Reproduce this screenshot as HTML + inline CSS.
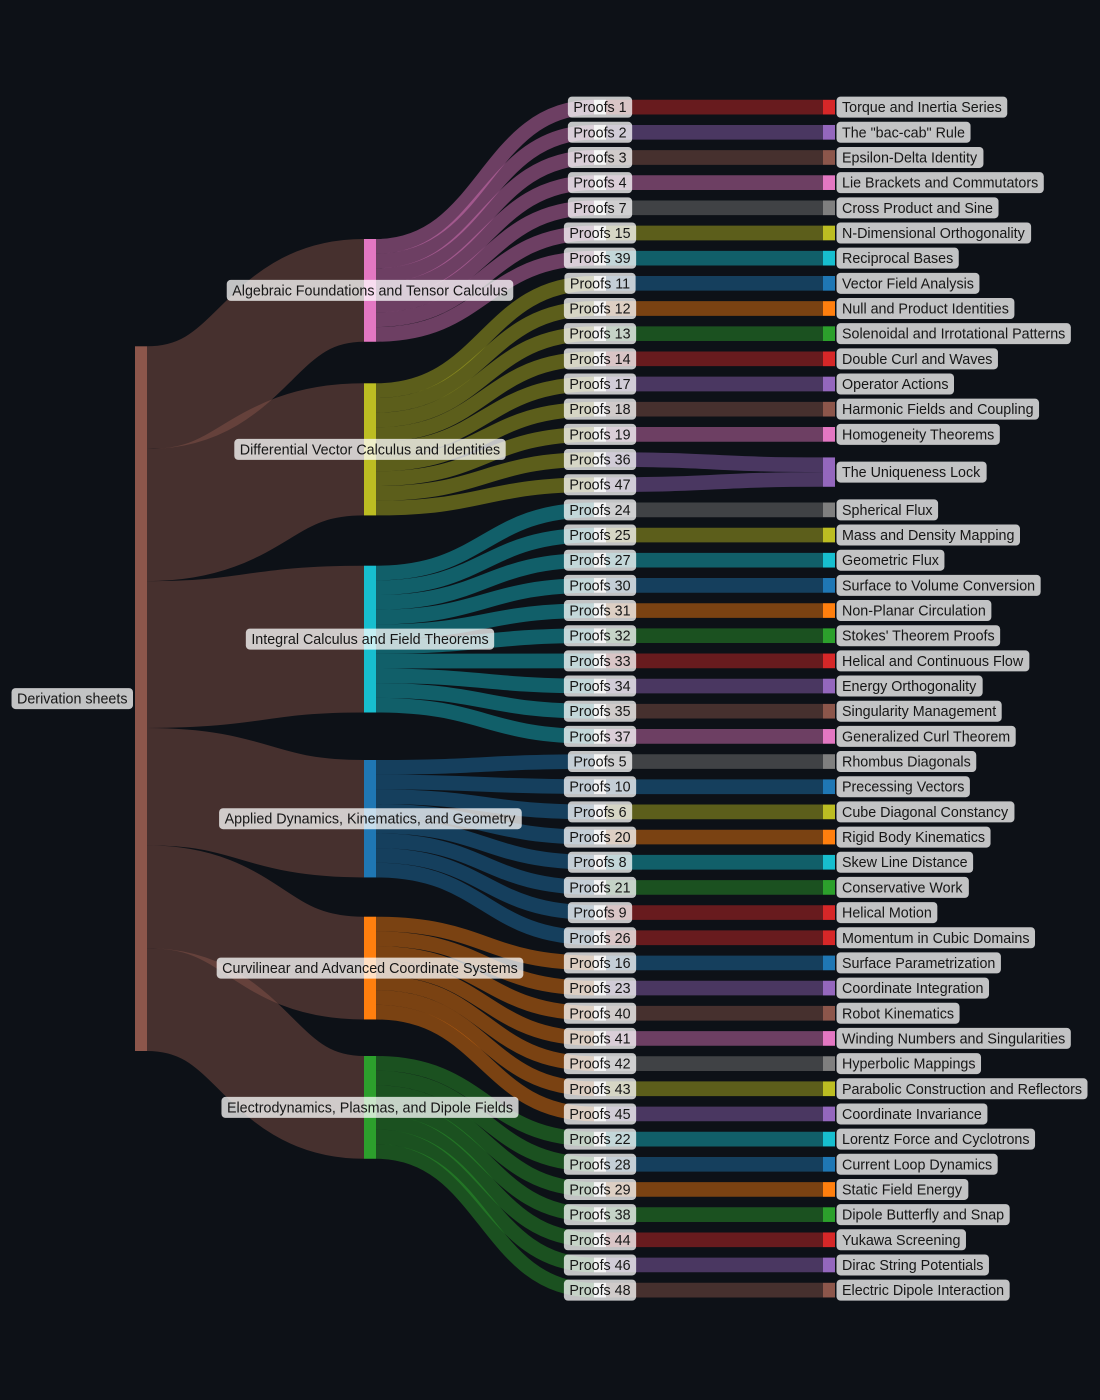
<!DOCTYPE html>
<html>
<head>
<meta charset="utf-8">
<style>
  html, body { margin:0; padding:0; background:#0d1117; }
  svg { display:block; }
  #labels text { font-family:"Liberation Sans", Arial, sans-serif; font-size:14.3px; fill:#161616; }
</style>
</head>
<body>
<svg id="s" width="1100" height="1400" viewBox="0 0 1100 1400" xmlns="http://www.w3.org/2000/svg">
  <rect x="0" y="0" width="1100" height="1400" fill="#0d1117"/>
  <g id="links" fill="none"></g>
  <g id="nodes"></g>
  <g id="boxes"></g>
  <g id="labels">
    <text id="rootlbl" x="127.5" y="703.6" text-anchor="end">Derivation sheets</text>

    <text class="cat" x="370" y="295.4" text-anchor="middle">Algebraic Foundations and Tensor Calculus</text>
    <text class="cat" x="370" y="454.4" text-anchor="middle">Differential Vector Calculus and Identities</text>
    <text class="cat" x="370" y="644.1" text-anchor="middle">Integral Calculus and Field Theorems</text>
    <text class="cat" x="370" y="823.7" text-anchor="middle">Applied Dynamics, Kinematics, and Geometry</text>
    <text class="cat" x="370" y="973.1" text-anchor="middle">Curvilinear and Advanced Coordinate Systems</text>
    <text class="cat" x="370" y="1112.4" text-anchor="middle">Electrodynamics, Plasmas, and Dipole Fields</text>

    <text x="600" y="112.14" text-anchor="middle">Proofs 1</text>
    <text x="600" y="137.31" text-anchor="middle">Proofs 2</text>
    <text x="600" y="162.48" text-anchor="middle">Proofs 3</text>
    <text x="600" y="187.65" text-anchor="middle">Proofs 4</text>
    <text x="600" y="212.82" text-anchor="middle">Proofs 7</text>
    <text x="600" y="237.99" text-anchor="middle">Proofs 15</text>
    <text x="600" y="263.16" text-anchor="middle">Proofs 39</text>
    <text x="600" y="288.33" text-anchor="middle">Proofs 11</text>
    <text x="600" y="313.50" text-anchor="middle">Proofs 12</text>
    <text x="600" y="338.67" text-anchor="middle">Proofs 13</text>
    <text x="600" y="363.84" text-anchor="middle">Proofs 14</text>
    <text x="600" y="389.01" text-anchor="middle">Proofs 17</text>
    <text x="600" y="414.18" text-anchor="middle">Proofs 18</text>
    <text x="600" y="439.35" text-anchor="middle">Proofs 19</text>
    <text x="600" y="464.52" text-anchor="middle">Proofs 36</text>
    <text x="600" y="489.69" text-anchor="middle">Proofs 47</text>
    <text x="600" y="514.86" text-anchor="middle">Proofs 24</text>
    <text x="600" y="540.03" text-anchor="middle">Proofs 25</text>
    <text x="600" y="565.20" text-anchor="middle">Proofs 27</text>
    <text x="600" y="590.37" text-anchor="middle">Proofs 30</text>
    <text x="600" y="615.54" text-anchor="middle">Proofs 31</text>
    <text x="600" y="640.71" text-anchor="middle">Proofs 32</text>
    <text x="600" y="665.88" text-anchor="middle">Proofs 33</text>
    <text x="600" y="691.05" text-anchor="middle">Proofs 34</text>
    <text x="600" y="716.22" text-anchor="middle">Proofs 35</text>
    <text x="600" y="741.39" text-anchor="middle">Proofs 37</text>
    <text x="600" y="766.56" text-anchor="middle">Proofs 5</text>
    <text x="600" y="791.73" text-anchor="middle">Proofs 10</text>
    <text x="600" y="816.90" text-anchor="middle">Proofs 6</text>
    <text x="600" y="842.07" text-anchor="middle">Proofs 20</text>
    <text x="600" y="867.24" text-anchor="middle">Proofs 8</text>
    <text x="600" y="892.41" text-anchor="middle">Proofs 21</text>
    <text x="600" y="917.58" text-anchor="middle">Proofs 9</text>
    <text x="600" y="942.75" text-anchor="middle">Proofs 26</text>
    <text x="600" y="967.92" text-anchor="middle">Proofs 16</text>
    <text x="600" y="993.09" text-anchor="middle">Proofs 23</text>
    <text x="600" y="1018.26" text-anchor="middle">Proofs 40</text>
    <text x="600" y="1043.43" text-anchor="middle">Proofs 41</text>
    <text x="600" y="1068.60" text-anchor="middle">Proofs 42</text>
    <text x="600" y="1093.77" text-anchor="middle">Proofs 43</text>
    <text x="600" y="1118.94" text-anchor="middle">Proofs 45</text>
    <text x="600" y="1144.11" text-anchor="middle">Proofs 22</text>
    <text x="600" y="1169.28" text-anchor="middle">Proofs 28</text>
    <text x="600" y="1194.45" text-anchor="middle">Proofs 29</text>
    <text x="600" y="1219.62" text-anchor="middle">Proofs 38</text>
    <text x="600" y="1244.79" text-anchor="middle">Proofs 44</text>
    <text x="600" y="1269.96" text-anchor="middle">Proofs 46</text>
    <text x="600" y="1295.13" text-anchor="middle">Proofs 48</text>

    <text x="842" y="112.14">Torque and Inertia Series</text>
    <text x="842" y="137.31">The "bac-cab" Rule</text>
    <text x="842" y="162.48">Epsilon-Delta Identity</text>
    <text x="842" y="187.65">Lie Brackets and Commutators</text>
    <text x="842" y="212.82">Cross Product and Sine</text>
    <text x="842" y="237.99">N-Dimensional Orthogonality</text>
    <text x="842" y="263.16">Reciprocal Bases</text>
    <text x="842" y="288.33">Vector Field Analysis</text>
    <text x="842" y="313.50">Null and Product Identities</text>
    <text x="842" y="338.67">Solenoidal and Irrotational Patterns</text>
    <text x="842" y="363.84">Double Curl and Waves</text>
    <text x="842" y="389.01">Operator Actions</text>
    <text x="842" y="414.18">Harmonic Fields and Coupling</text>
    <text x="842" y="439.35">Homogeneity Theorems</text>
    <text x="842" y="477.10">The Uniqueness Lock</text>
    <text x="842" y="514.86">Spherical Flux</text>
    <text x="842" y="540.03">Mass and Density Mapping</text>
    <text x="842" y="565.20">Geometric Flux</text>
    <text x="842" y="590.37">Surface to Volume Conversion</text>
    <text x="842" y="615.54">Non-Planar Circulation</text>
    <text x="842" y="640.71">Stokes' Theorem Proofs</text>
    <text x="842" y="665.88">Helical and Continuous Flow</text>
    <text x="842" y="691.05">Energy Orthogonality</text>
    <text x="842" y="716.22">Singularity Management</text>
    <text x="842" y="741.39">Generalized Curl Theorem</text>
    <text x="842" y="766.56">Rhombus Diagonals</text>
    <text x="842" y="791.73">Precessing Vectors</text>
    <text x="842" y="816.90">Cube Diagonal Constancy</text>
    <text x="842" y="842.07">Rigid Body Kinematics</text>
    <text x="842" y="867.24">Skew Line Distance</text>
    <text x="842" y="892.41">Conservative Work</text>
    <text x="842" y="917.58">Helical Motion</text>
    <text x="842" y="942.75">Momentum in Cubic Domains</text>
    <text x="842" y="967.92">Surface Parametrization</text>
    <text x="842" y="993.09">Coordinate Integration</text>
    <text x="842" y="1018.26">Robot Kinematics</text>
    <text x="842" y="1043.43">Winding Numbers and Singularities</text>
    <text x="842" y="1068.60">Hyperbolic Mappings</text>
    <text x="842" y="1093.77">Parabolic Construction and Reflectors</text>
    <text x="842" y="1118.94">Coordinate Invariance</text>
    <text x="842" y="1144.11">Lorentz Force and Cyclotrons</text>
    <text x="842" y="1169.28">Current Loop Dynamics</text>
    <text x="842" y="1194.45">Static Field Energy</text>
    <text x="842" y="1219.62">Dipole Butterfly and Snap</text>
    <text x="842" y="1244.79">Yukawa Screening</text>
    <text x="842" y="1269.96">Dirac String Potentials</text>
    <text x="842" y="1295.13">Electric Dipole Interaction</text>
  </g>
</svg>
<script>
(function(){
  var NS = "http://www.w3.org/2000/svg";
  var gL = document.getElementById('links'),
      gN = document.getElementById('nodes'),
      gB = document.getElementById('boxes'),
      gT = document.getElementById('labels');
  var ky = 14.68;
  var C = {red:'#d62728', purple:'#9467bd', brown:'#8c564b', pink:'#e377c2', gray:'#7f7f7f',
           olive:'#bcbd22', cyan:'#17becf', blue:'#1f77b4', orange:'#ff7f0e', green:'#2ca02c'};
  function el(tag, attrs, parent){
    var e = document.createElementNS(NS, tag);
    for (var k in attrs) e.setAttribute(k, attrs[k]);
    parent.appendChild(e); return e;
  }
  function link(x0,y0,x1,y1,w,c){
    var xm = (x0+x1)/2;
    el('path', {d:'M'+x0+','+y0+'C'+xm+','+y0+' '+xm+','+y1+' '+x1+','+y1,
      stroke:c, 'stroke-width':w, 'stroke-opacity':0.45, fill:'none'}, gL);
  }
  var rootX0=135, rootX1=147, rootY0=346.3, rootY1=1051;
  var cats = [[239,7,C.pink],[383.3,9,C.olive],[565.7,10,C.cyan],[760,8,C.blue],[916.7,7,C.orange],[1056,7,C.green]];
  var catX0=364, catX1=376, pX0=594, pX1=606, tX0=823, tX1=835;
  function pY0(i){ return 99.8 + i*25.17; }
  var tc = ['red','purple','brown','pink','gray','olive','cyan','blue','orange','green',
            'red','purple','brown','pink','purple','purple','gray','olive','cyan','blue',
            'orange','green','red','purple','brown','pink','gray','blue','olive','orange',
            'cyan','green','red','red','blue','purple','brown','pink','gray','olive',
            'purple','cyan','blue','orange','green','red','purple','brown'];
  var acc = rootY0;
  cats.forEach(function(c){
    var w = c[1]*ky;
    link(rootX1, acc + w/2, catX0, c[0] + w/2, w, C.brown);
    acc += w;
  });
  var row = 0;
  cats.forEach(function(c){
    for (var j=0;j<c[1];j++){
      link(catX1, c[0] + j*ky + ky/2, pX0, pY0(row) + ky/2, ky, c[2]);
      row++;
    }
  });
  var uTop = (pY0(14)+pY0(15)+ky)/2 - ky;
  for (var i=0;i<48;i++){
    var y0 = pY0(i) + ky/2, y1;
    if (i===14) y1 = uTop + ky/2;
    else if (i===15) y1 = uTop + ky*1.5;
    else y1 = y0;
    link(pX1, y0, tX0, y1, ky, C[tc[i]]);
  }
  el('rect',{x:rootX0,y:rootY0,width:12,height:rootY1-rootY0,fill:C.brown},gN);
  cats.forEach(function(c){
    el('rect',{x:catX0,y:c[0],width:12,height:c[1]*ky,fill:c[2]},gN);
  });
  for (var i=0;i<48;i++){
    el('rect',{x:pX0,y:pY0(i),width:12,height:ky,fill:'#d8d8d8'},gN);
    if (i===14){
      el('rect',{x:tX0,y:uTop,width:12,height:2*ky,fill:C.purple},gN);
    } else if (i!==15){
      el('rect',{x:tX0,y:pY0(i),width:12,height:ky,fill:C[tc[i]]},gN);
    }
  }
  var texts = gT.querySelectorAll('text');
  for (var k=0;k<texts.length;k++){
    var t = texts[k];
    var bb = t.getBBox();
    var cy = parseFloat(t.getAttribute('y')) - 5;
    el('rect',{x:bb.x-5.5, y:cy-10.5, width:bb.width+11, height:21, rx:4, ry:4,
      fill:'#ffffff', 'fill-opacity':0.75}, gB);
  }
})();
</script>
</body>
</html>
